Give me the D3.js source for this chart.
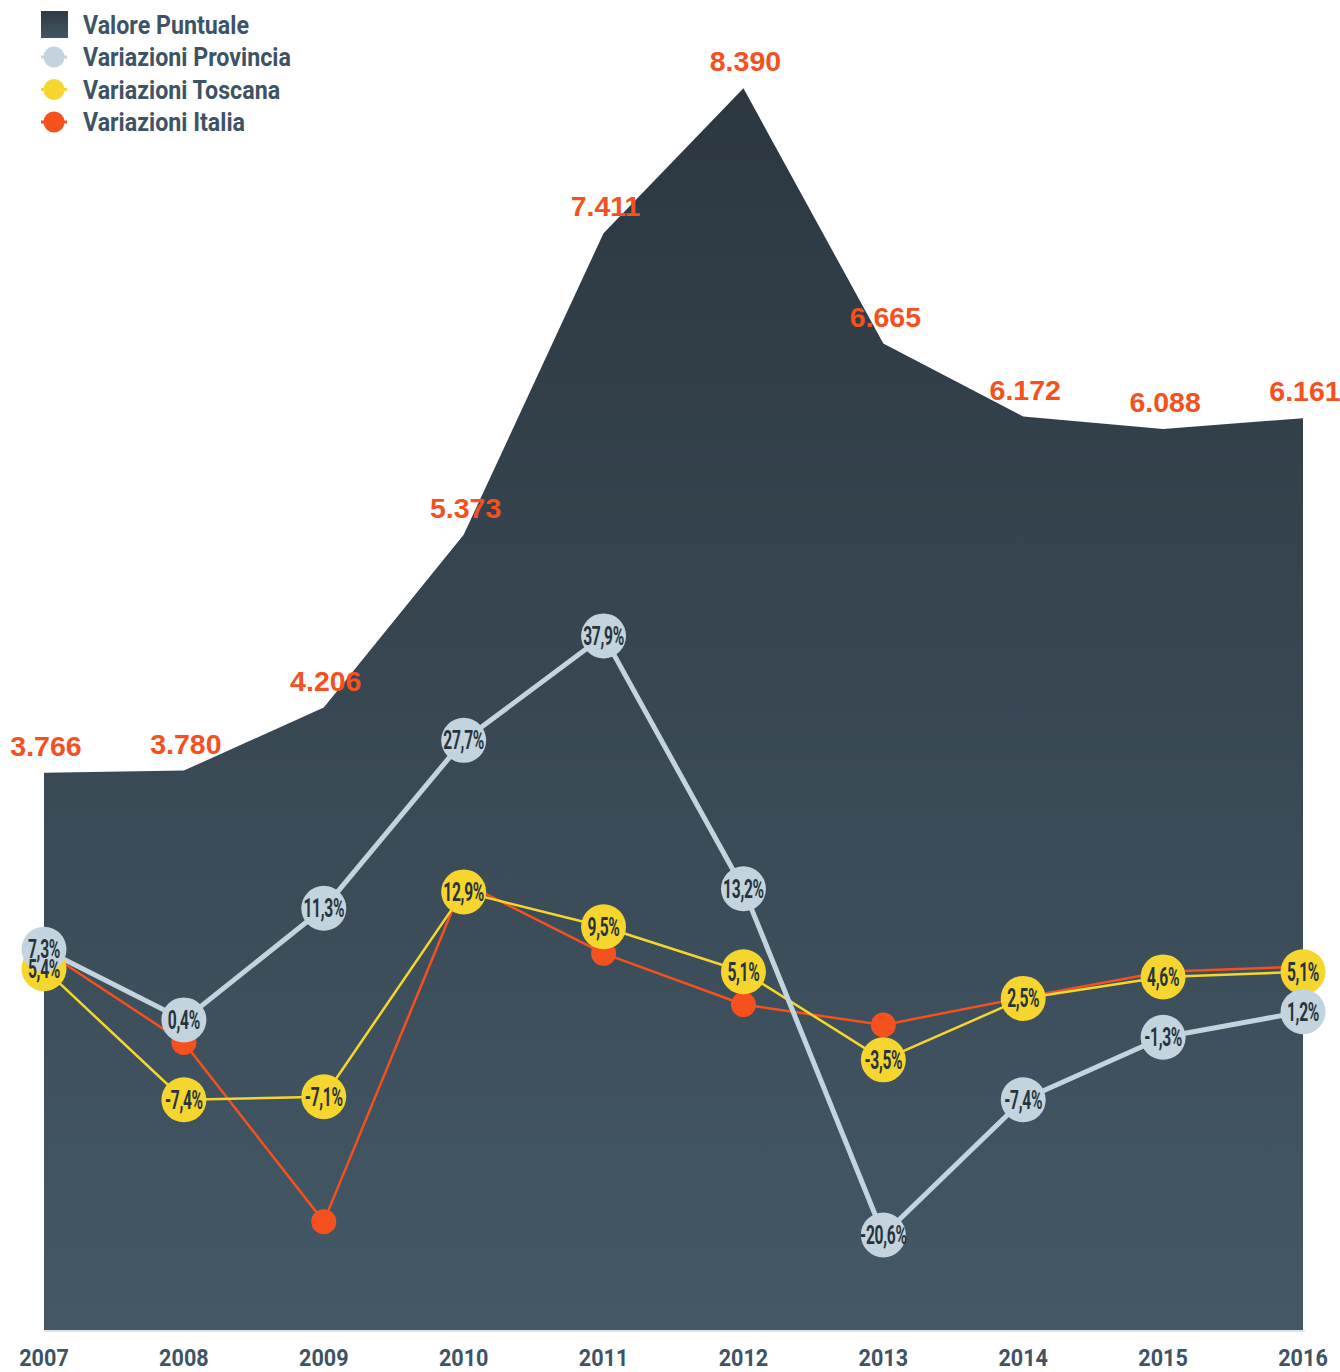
<!DOCTYPE html>
<html>
<head>
<meta charset="utf-8">
<script src="https://cdnjs.cloudflare.com/ajax/libs/d3/7.8.5/d3.min.js"></script>
<style>
  html, body { margin: 0; padding: 0; background: #ffffff; }
  svg { display: block; }
</style>
</head>
<body>
<svg id="chart" width="1340" height="1372"></svg>
<script>
// Anni e serie
const years = [2007, 2008, 2009, 2010, 2011, 2012, 2013, 2014, 2015, 2016];
const valori = [3766, 3780, 4206, 5373, 7411, 8390, 6665, 6172, 6088, 6161];
const provincia = [7.3, 0.4, 11.3, 27.7, 37.9, 13.2, -20.6, -7.4, -1.3, 1.2];
const toscana = [5.4, -7.4, -7.1, 12.9, 9.5, 5.1, -3.5, 2.5, 4.6, 5.1];
const italia = [7.2, -1.8, -19.3, 13.8, 6.9, 1.9, -0.1, 2.6, 5.1, 5.6];
const legendLabels = ["Valore Puntuale", "Variazioni Provincia", "Variazioni Toscana", "Variazioni Italia"];

const COL_ORANGE = "#f4511e";
const COL_YELLOW = "#f5d52e";
const COL_GREY = "#c3d4de";
const COL_TEXT = "#3e5364";
const COL_DARK = "#28343d";

const it = d3.formatLocale({ decimal: ",", thousands: ".", grouping: [3], currency: ["€", ""], minus: "-" });
const fmtVal = it.format(",d");
const fmtPct = v => it.format(".1f")(v) + "%";

const svg = d3.select("#chart");

const x = d3.scalePoint().domain(years).range([44, 1303]);
const yVal = d3.scaleLinear().domain([0, 9000]).range([1330, -2]);
const yPct = d3.scaleLinear().domain([-30, 40]).range([1331.2, 614.4]);

// Gradiente dell'area
const defs = svg.append("defs");
const grad = defs.append("linearGradient")
  .attr("id", "areaGrad").attr("gradientUnits", "userSpaceOnUse")
  .attr("x1", 0).attr("x2", 0).attr("y1", yVal(8390)).attr("y2", 1330);
grad.append("stop").attr("offset", "0").attr("stop-color", "#2c3740");
grad.append("stop").attr("offset", "1").attr("stop-color", "#445866");

const legGrad = defs.append("linearGradient")
  .attr("id", "legGrad").attr("x1", 0).attr("x2", 0).attr("y1", 0).attr("y2", 1);
legGrad.append("stop").attr("offset", "0").attr("stop-color", "#2e3a43");
legGrad.append("stop").attr("offset", "1").attr("stop-color", "#435665");

// Area del valore puntuale
const area = d3.area()
  .x((d, i) => x(years[i]))
  .y0(yVal(0))
  .y1(d => yVal(d));
svg.append("path").datum(valori)
  .attr("d", area)
  .attr("fill", "url(#areaGrad)");

// Linea di base
svg.append("line")
  .attr("x1", x(2007)).attr("x2", x(2016) + 2)
  .attr("y1", yVal(0) + 1).attr("y2", yVal(0) + 1)
  .attr("stroke", "#b9cad4").attr("stroke-width", 1.2);

// Etichette dei valori
svg.append("g").selectAll("text").data(valori).join("text")
  .attr("x", (d, i) => x(years[i]) + 2)
  .attr("y", d => yVal(d) - 17)
  .attr("text-anchor", "middle")
  .attr("font-family", "'Liberation Sans', Arial, sans-serif")
  .attr("font-weight", 700)
  .attr("font-size", 28.5)
  .attr("fill", COL_ORANGE)
  .text(d => fmtVal(d));

// Assi: anni
const xAxis = svg.append("g");
xAxis.selectAll("text").data(years).join("text")
  .attr("transform", d => `translate(${x(d)},1366) scale(0.9,1)`)
  .attr("text-anchor", "middle")
  .attr("font-family", "Roboto, sans-serif")
  .attr("font-weight", 700)
  .attr("font-size", 24)
  .attr("fill", COL_TEXT)
  .text(d => d);

const line = d3.line().x((d, i) => x(years[i])).y(d => yPct(d));

// Serie percentuali
const series = [
  { data: italia, color: COL_ORANGE, width: 2.5, r: 12.5, label: false },
  { data: toscana, color: COL_YELLOW, width: 2.5, r: 22.5, label: true },
  { data: provincia, color: COL_GREY, width: 5, r: 22.5, label: true }
];

series.forEach(s => {
  svg.append("path").datum(s.data)
    .attr("d", line)
    .attr("fill", "none")
    .attr("stroke", s.color)
    .attr("stroke-width", s.width)
    .attr("stroke-linejoin", "round");
});
series.forEach(s => {
  svg.append("g").selectAll("circle").data(s.data).join("circle")
    .attr("cx", (d, i) => x(years[i]))
    .attr("cy", d => yPct(d))
    .attr("r", s.r)
    .attr("fill", s.color);
});
series.filter(s => s.label).forEach(s => {
  svg.append("g").selectAll("text").data(s.data).join("text")
    .attr("transform", (d, i) => `translate(${x(years[i])},${yPct(d) + 9}) scale(0.6,1)`)
    .attr("text-anchor", "middle")
    .attr("font-family", "Roboto, sans-serif")
    .attr("font-weight", 700)
    .attr("font-size", 26)
    .attr("letter-spacing", -0.5)
    .attr("fill", COL_DARK)
    .text(d => fmtPct(d));
});

// Legenda
const legend = svg.append("g");
legend.append("rect")
  .attr("x", 41).attr("y", 11).attr("width", 27).attr("height", 27)
  .attr("fill", "url(#legGrad)");
const markerCols = [null, COL_GREY, COL_YELLOW, COL_ORANGE];
const rowY = [24.5, 57, 89.5, 122];
[1, 2, 3].forEach(k => {
  legend.append("line")
    .attr("x1", 41).attr("x2", 67).attr("y1", rowY[k]).attr("y2", rowY[k])
    .attr("stroke", markerCols[k]).attr("stroke-width", 3);
  legend.append("circle")
    .attr("cx", 54).attr("cy", rowY[k]).attr("r", 10.5)
    .attr("fill", markerCols[k]);
});
legend.selectAll("text").data(legendLabels).join("text")
  .attr("transform", (d, i) => `translate(83,${rowY[i] + 9}) scale(0.93,1)`)
  .attr("font-family", "Roboto, sans-serif")
  .attr("font-weight", 700)
  .attr("font-size", 25)
  .attr("fill", COL_TEXT)
  .text(d => d);
</script>
</body>
</html>
